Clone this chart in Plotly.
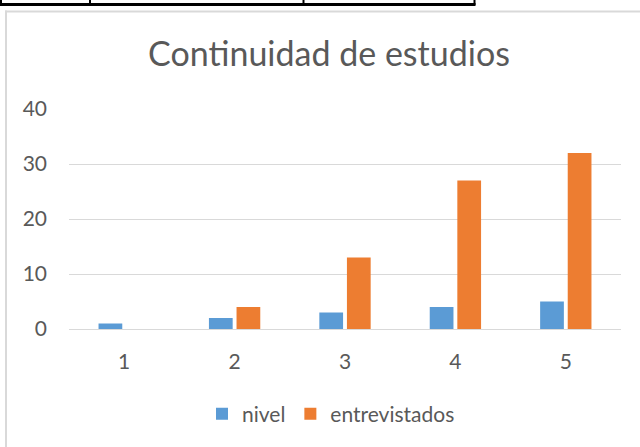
import plotly.graph_objects as go

categories = ["1", "2", "3", "4", "5"]
nivel = [1, 2, 3, 4, 5]
entrevistados = [0, 4, 13, 27, 32]
y_ticks = [0, 10, 20, 30, 40]

W, H = 640, 447
L, R, T, B = 69, 621, 109, 329  # plot area in pixels


def px(x):
    return (x - L) / (R - L)


def py(y):
    return (B - y) / (B - T)


TXT = "#595959"
GRID = "#d9d9d9"
FONT = "Lato, 'Open Sans', sans-serif"

fig = go.Figure()
fig.add_trace(go.Bar(name="nivel", x=categories, y=nivel, marker_color="#5B9BD5",
                     marker_line_width=0))
fig.add_trace(go.Bar(name="entrevistados", x=categories, y=entrevistados,
                     marker_color="#ED7D31", marker_line_width=0))

shapes = []
# chart-area border (light gray; only left and top edges are inside the window)
shapes.append(dict(type="line", xref="paper", yref="paper",
                   x0=px(6), x1=px(6), y0=py(460), y1=py(10.5),
                   line=dict(color=GRID, width=2), layer="below"))
shapes.append(dict(type="line", xref="paper", yref="paper",
                   x0=px(5), x1=px(660), y0=py(11.5), y1=py(11.5),
                   line=dict(color=GRID, width=2), layer="below"))
# spreadsheet table borders at the very top
shapes.append(dict(type="line", xref="paper", yref="paper",
                   x0=px(0), x1=px(475.5), y0=py(4.5), y1=py(4.5),
                   line=dict(color="#000000", width=3)))
for vx in [1, 90, 303.5, 474.5]:
    shapes.append(dict(type="line", xref="paper", yref="paper",
                       x0=px(vx), x1=px(vx), y0=py(-2), y1=py(5),
                       line=dict(color="#000000", width=2)))

fig.update_layout(
    width=W, height=H,
    margin=dict(l=L, r=W - R, t=T, b=H - B, pad=0),
    paper_bgcolor="white", plot_bgcolor="white",
    font=dict(family=FONT, color=TXT, size=21),
    title=dict(text="Continuidad de estudios", x=329 / W, xanchor="center",
               xref="container", yref="container", y=1 - 54 / H, yanchor="middle",
               font=dict(size=34, color=TXT, family=FONT)),
    barmode="group", bargap=0.5, bargroupgap=0.14,
    showlegend=True,
    legend=dict(orientation="h", x=px(331), xanchor="center", y=py(414),
                yanchor="middle", font=dict(size=21, color=TXT),
                itemwidth=30, bgcolor="rgba(0,0,0,0)"),
    shapes=shapes,
)
fig.update_xaxes(type="category", showgrid=False, showline=True, linecolor=GRID,
                 linewidth=1, ticks="", ticklabelstandoff=14,
                 tickfont=dict(size=21, color=TXT, family=FONT), fixedrange=True)
fig.update_yaxes(range=[0, 40], tickvals=y_ticks, showgrid=True, gridcolor=GRID,
                 gridwidth=1, zeroline=False, showline=False, ticks="",
                 ticklabelstandoff=21,
                 tickfont=dict(size=21, color=TXT, family=FONT), fixedrange=True)

fig.write_html("out.html", config={"displayModeBar": False, "staticPlot": True},
               post_script=("document.documentElement.style.overflow='hidden';"
                            "document.body.style.margin='0';"
                            "document.body.style.overflow='hidden';"))
